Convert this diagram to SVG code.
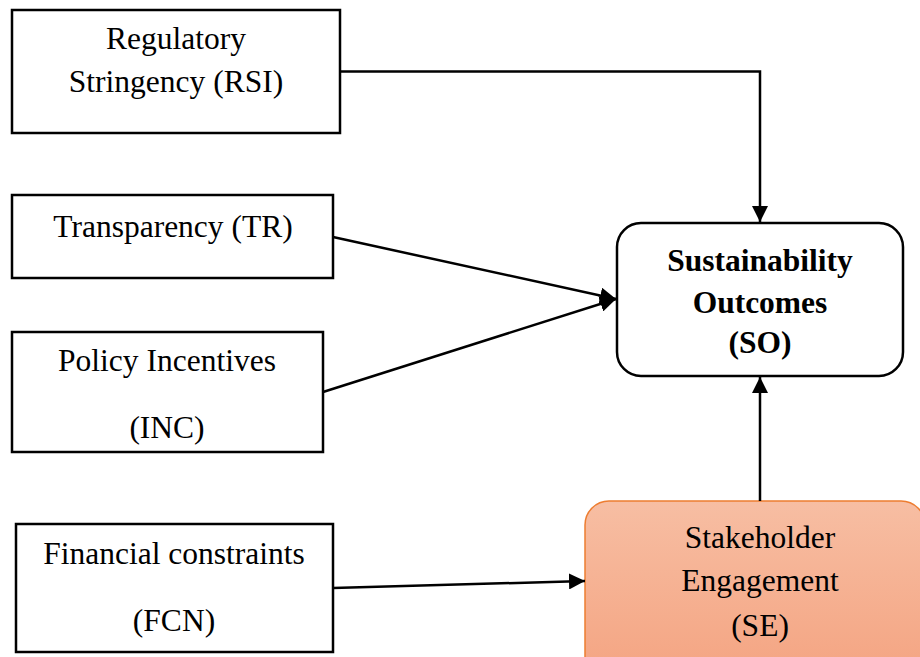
<svg xmlns="http://www.w3.org/2000/svg" width="920" height="657" viewBox="0 0 920 657">
<style>
.box{fill:#fff;stroke:#000;stroke-width:2.5}
.t{font-family:"Liberation Serif","Times New Roman",serif;font-size:31.5px;fill:#000;text-anchor:middle}
.b{font-weight:bold}
.con{fill:none;stroke:#000;stroke-width:2.5}
</style>
<defs>
<marker id="ah" markerUnits="userSpaceOnUse" markerWidth="18" markerHeight="16" refX="16" refY="8" orient="auto">
<path d="M0,0 L16,8 L0,16 Z" fill="#000"/>
</marker>
<linearGradient id="seg" x1="0" y1="0" x2="0" y2="1">
<stop offset="0" stop-color="#f7bea3"/>
<stop offset="1" stop-color="#f4a27f"/>
</linearGradient>
</defs>
<rect width="920" height="657" fill="#fff"/>
<g id="RSI">
<rect class="box" x="12" y="10" width="328" height="123"/>
<text class="t" x="176" y="49">Regulatory</text>
<text class="t" x="176" y="92">Stringency (RSI)</text>
</g>
<g id="TR">
<rect class="box" x="12" y="195" width="321" height="83"/>
<text class="t" x="173" y="237">Transparency (TR)</text>
</g>
<g id="INC">
<rect class="box" x="12" y="332" width="311" height="120"/>
<text class="t" x="167" y="371">Policy Incentives</text>
<text class="t" x="167" y="438">(INC)</text>
</g>
<g id="FCN">
<rect class="box" x="16" y="524" width="317" height="128"/>
<text class="t" x="174" y="564">Financial constraints</text>
<text class="t" x="174" y="631">(FCN)</text>
</g>
<g id="SO">
<rect class="box" x="617" y="223" width="286" height="153" rx="24" ry="24"/>
<text class="t b" x="760" y="271">Sustainability</text>
<text class="t b" x="760" y="313">Outcomes</text>
<text class="t b" x="760" y="353">(SO)</text>
</g>
<g id="SE">
<rect x="585" y="501" width="340" height="190" rx="24" ry="24" fill="url(#seg)" stroke="#ed7d31" stroke-width="1.5"/>
<text class="t" x="760" y="548">Stakeholder</text>
<text class="t" x="760" y="591">Engagement</text>
<text class="t" x="760" y="636">(SE)</text>
</g>
<g id="connectors">
<path class="con" d="M340,71.5 H760 V222" marker-end="url(#ah)"/>
<path class="con" d="M333,237 L616,299" marker-end="url(#ah)"/>
<path class="con" d="M323,392 L616,299" marker-end="url(#ah)"/>
<path class="con" d="M760,501 L760,377" marker-end="url(#ah)"/>
<path class="con" d="M333,588 L585,581" marker-end="url(#ah)"/>
</g>
</svg>
